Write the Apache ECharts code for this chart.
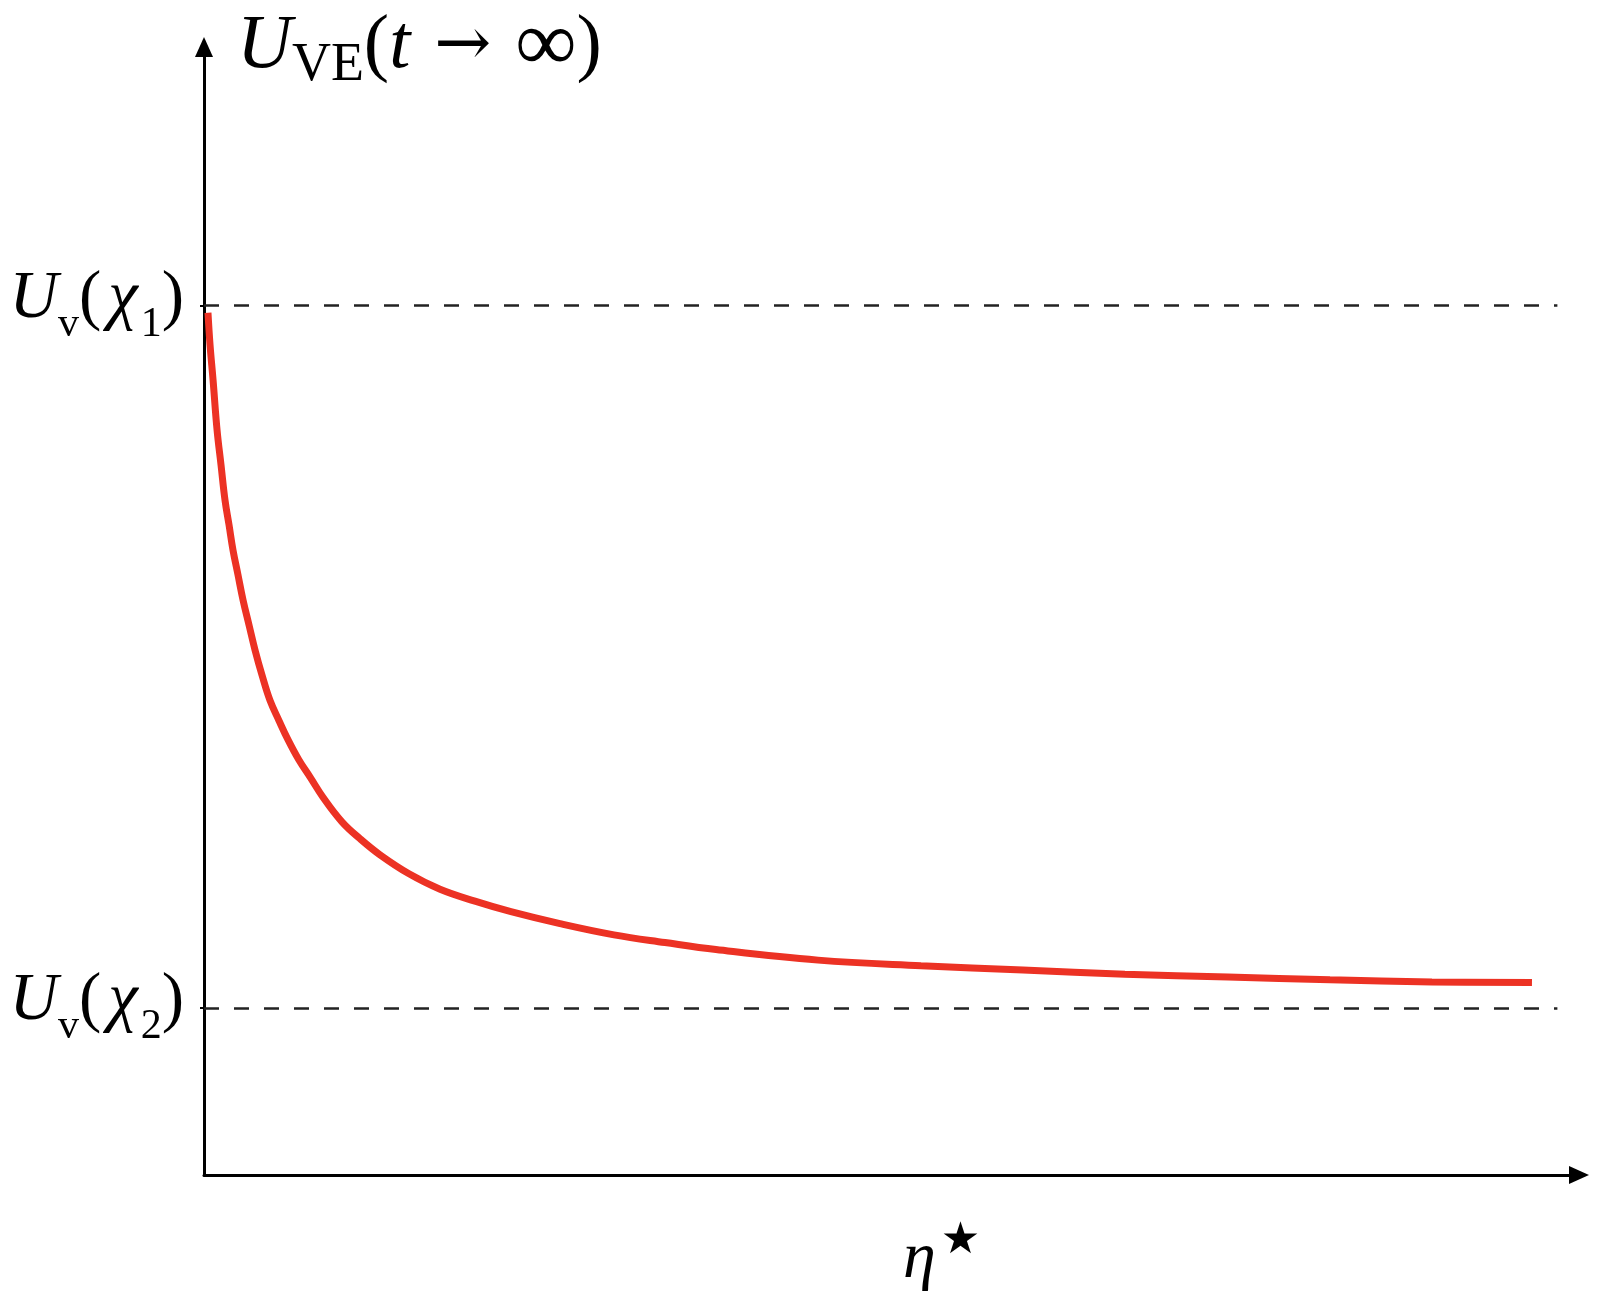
<!DOCTYPE html>
<html>
<head>
<meta charset="utf-8">
<script src="https://cdn.jsdelivr.net/npm/echarts@6/dist/echarts.min.js"></script>
<style>
html,body{margin:0;padding:0;background:#fff;}
#chart{width:1604px;height:1308px;}
</style>
</head>
<body>
<div id="chart"></div>
<script>
// eta* (arbitrary units, 0 at the vertical axis)
const eta = [0.029, 0.044, 0.066, 0.095, 0.124, 0.153, 0.182, 0.211, 0.247, 0.284, 0.328, 0.371, 0.422, 0.480, 0.546, 0.611, 0.691, 0.771, 0.866, 1.004, 1.135, 1.281, 1.492, 1.718, 1.972, 2.234, 2.591, 2.984, 3.355, 3.726, 4.469, 5.218, 5.961, 6.703, 7.453, 8.195, 8.937, 9.665];
// U_VE(t -> inf), normalised so that U_v(chi2) = 0 and U_v(chi1) = 1
const uve = [0.990, 0.944, 0.894, 0.823, 0.773, 0.723, 0.688, 0.652, 0.617, 0.581, 0.545, 0.510, 0.474, 0.438, 0.409, 0.382, 0.353, 0.329, 0.300, 0.265, 0.241, 0.218, 0.191, 0.169, 0.152, 0.137, 0.120, 0.104, 0.093, 0.083, 0.068, 0.060, 0.054, 0.048, 0.044, 0.040, 0.037, 0.036];
// reference levels and their tick labels
const refU = [1, 0];
const refLabels = ['{u|U}{s|v}{p|(}{c|χ}{s|1}{p|)}', '{u|U}{s|v}{p|(}{c|χ}{s|2}{p|)}'];
const refXEnd = 9.85;

const serif = 'Liberation Serif';
const chart = echarts.init(document.getElementById('chart'), null, {renderer: 'canvas'});

const base = {fontWeight: 'normal', color: '#000'};
const lblRich = {
  u: Object.assign({fontFamily: serif, fontStyle: 'italic', fontSize: 67, lineHeight: 92}, base),
  c: Object.assign({fontFamily: serif, fontStyle: 'italic', fontSize: 67, lineHeight: 92, padding: [0, 3, 0, 7]}, base),
  p: Object.assign({fontFamily: serif, fontSize: 67, lineHeight: 92}, base),
  s: Object.assign({fontFamily: serif, fontSize: 42, lineHeight: 40, verticalAlign: 'bottom'}, base)
};

chart.setOption({
  animation: false,
  backgroundColor: '#fff',
  title: [
    {
      text: '{u|U}{s|VE}{p|(}{i|t}{a|→}{f|∞}{p|)}',
      left: 237, top: 1, padding: 0,
      textStyle: {
        fontWeight: 'normal',
        rich: {
          u: Object.assign({fontFamily: serif, fontStyle: 'italic', fontSize: 76, lineHeight: 92}, base),
          i: Object.assign({fontFamily: serif, fontStyle: 'italic', fontSize: 76, lineHeight: 92}, base),
          p: Object.assign({fontFamily: serif, fontSize: 76, lineHeight: 92}, base),
          a: Object.assign({fontFamily: 'DejaVu Serif', fontSize: 68, lineHeight: 92, padding: [0, 24, 0, 24]}, base),
          f: Object.assign({fontFamily: serif, fontSize: 86, lineHeight: 92}, base),
          s: Object.assign({fontFamily: serif, fontSize: 54, lineHeight: 41, verticalAlign: 'bottom'}, base)
        }
      }
    },
    {
      text: '{e|η}{s|★}',
      left: 903, top: 1220, padding: 0,
      textStyle: {
        fontWeight: 'normal',
        rich: {
          e: Object.assign({fontFamily: serif, fontStyle: 'italic', fontSize: 66, lineHeight: 80}, base),
          s: Object.assign({fontFamily: 'DejaVu Sans', fontSize: 44, lineHeight: 40, verticalAlign: 'top', padding: [0, 0, 0, 5]}, base)
        }
      }
    }
  ],
  grid: {left: 204, right: 26, top: 48, bottom: 133, containLabel: false, outerBoundsMode: 'none'},
  xAxis: {
    type: 'value', min: 0, max: 10,
    axisLine: {show: true, onZero: false, symbol: ['none', 'triangle'], symbolSize: [18, 20], symbolOffset: [0, 1], lineStyle: {color: '#000', width: 3}},
    axisTick: {show: false}, axisLabel: {show: false}, splitLine: {show: false}
  },
  yAxis: {
    type: 'value', min: -0.238, max: 1.367,
    axisLine: {show: true, symbol: ['none', 'triangle'], symbolSize: [18, 20], symbolOffset: [0, 1], lineStyle: {color: '#000', width: 3}},
    axisTick: {show: true, customValues: refU, length: 4, lineStyle: {color: '#000', width: 2}},
    axisLabel: {
      show: true, customValues: refU, margin: 20, padding: [0, 0, 12, 0],
      formatter: function (v) { return refLabels[refU.indexOf(v)] || ''; },
      rich: lblRich
    },
    splitLine: {show: false}
  },
  series: [{
    type: 'line',
    data: eta.map((x, i) => [x, uve[i]]),
    symbol: 'none', smooth: 0.4,
    lineStyle: {color: '#ec3224', width: 7, cap: 'butt'},
    markLine: {
      silent: true, symbol: ['none', 'none'],
      label: {show: false},
      lineStyle: {color: '#222', width: 2.5, type: [15, 15]},
      data: refU.map(u => [{coord: [0, u]}, {coord: [refXEnd, u]}])
    }
  }]
});
</script>
</body>
</html>
